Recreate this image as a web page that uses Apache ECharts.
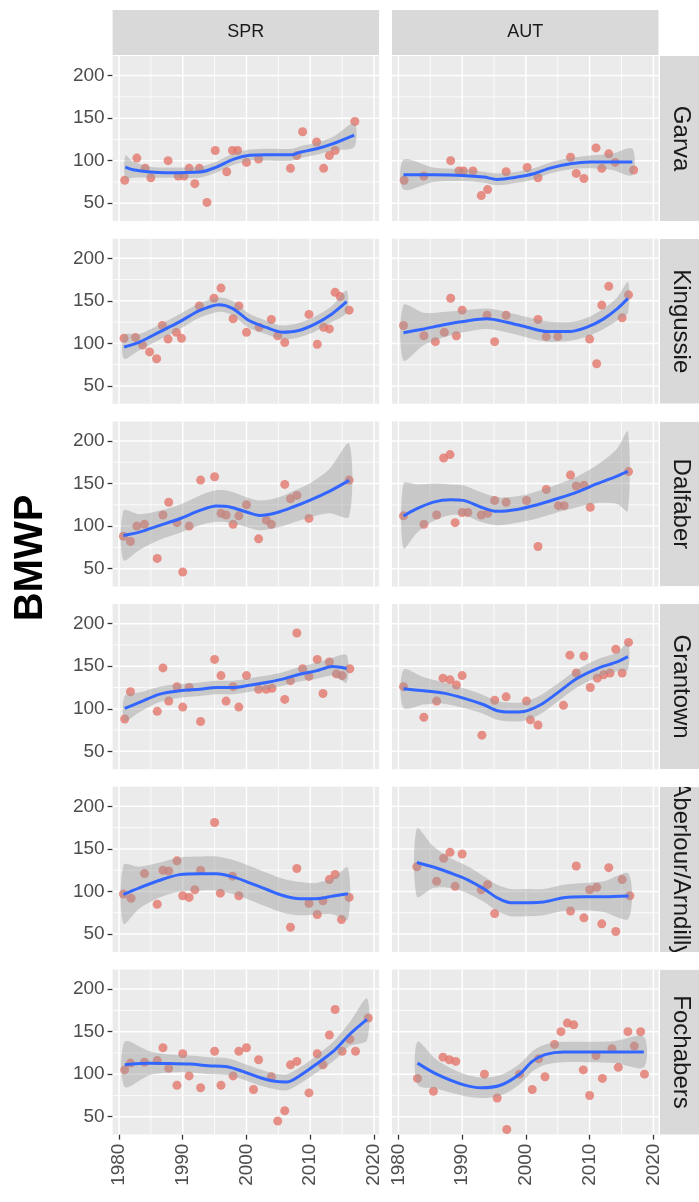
<!DOCTYPE html>
<html><head><meta charset="utf-8">
<script src="https://cdn.jsdelivr.net/npm/echarts@6/dist/echarts.min.js"></script>
<style>html,body{margin:0;padding:0;background:#fff}#c{width:699px;height:1202px}</style>
</head><body><div id="c"></div>
<script>
// ---- categories / ticks ----
const seasons = ['SPR', 'AUT'];
const sites = ['Garva', 'Kingussie', 'Dalfaber', 'Grantown', 'Aberlour/Arndilly', 'Fochabers'];
const xTickYears = [1980, 1990, 2000, 2010, 2020];
const xMinorYears = [1985, 1995, 2005, 2015];
const yTickValues = [50, 100, 150, 200];
const yMinorValues = [75, 125, 175];

// ---- observed points [year, BMWP] ----
const garvaSpr = [[1980.9,77],[1982.8,103],[1984.1,91],[1985,80],[1987.7,100],[1989.3,82],[1990.2,82],[1991,91],[1991.9,73],[1992.6,91],[1993.8,51],[1995.1,112],[1996.9,87],[1997.8,112],[1998.6,112],[2000,98],[2001.9,102],[2006.9,91],[2007.9,106],[2008.8,134],[2011,122],[2012.1,91],[2013,106],[2013.9,112],[2017,146]];
const garvaAut = [[1980.9,77],[1984,82],[1988.2,100],[1989.5,88],[1990.2,88],[1991.7,88],[1993,59],[1994,66],[1996.9,87],[2000.2,92],[2001.9,80],[2007,104],[2007.9,85],[2009.1,79],[2011,115],[2011.9,91],[2013,108],[2014,98],[2016.9,89]];
const kingussieSpr = [[1980.8,106],[1982.6,107],[1983.7,98],[1984.8,90],[1985.9,82],[1986.8,121],[1987.7,105],[1989,113],[1989.8,106],[1992.6,144],[1994.9,153],[1996,165],[1997.9,129],[1998.8,144],[2000,113],[2002,119],[2003.9,128],[2004.9,109],[2006,101],[2009.8,134],[2011.1,99],[2012.1,119],[2013,117],[2013.9,160],[2014.7,155],[2016.1,139]];
const kingussieAut = [[1980.8,121],[1984,109],[1985.8,102],[1987.2,113],[1988.2,153],[1989.1,109],[1990,139],[1993.9,133],[1995.1,102],[1996.9,133],[2001.9,128],[2003.2,108],[2005,108],[2010,105],[2011.1,76],[2011.9,145],[2013,167],[2015.1,130],[2016.1,157]];
const dalfaberSpr = [[1980.7,88],[1981.8,82],[1982.8,100],[1984,102],[1986,62],[1986.9,113],[1987.8,128],[1989.1,104],[1990,46],[1991,100],[1992.8,154],[1995,158],[1996,115],[1996.8,113],[1997.9,102],[1998.8,112],[2000,125],[2001.9,85],[2003.1,107],[2003.9,102],[2006,149],[2006.9,132],[2007.9,136],[2009.8,109],[2016.1,154]];
const dalfaberAut = [[1980.8,112],[1984,102],[1986,113],[1987.1,180],[1988.1,184],[1988.9,104],[1990,116],[1990.9,116],[1993,113],[1994,115],[1995.1,130],[1996.9,128],[2000.1,130],[2001.9,76],[2003.2,143],[2005.1,124],[2006,124],[2007,160],[2007.9,147],[2009.1,148],[2010.1,122],[2016.1,164]];
const grantownSpr = [[1980.9,88],[1981.8,120],[1986,97],[1986.9,148],[1987.8,109],[1989.1,126],[1990,102],[1991,125],[1992.8,85],[1995,158],[1996,139],[1996.8,109],[1997.9,126],[1998.8,102],[2000,139],[2001.9,123],[2003.1,123],[2004,124],[2006,111],[2006.9,133],[2007.9,189],[2008.8,147],[2009.8,138],[2011.1,158],[2012,118],[2013,155],[2014.1,141],[2015,139],[2016.2,147]];
const grantownAut = [[1980.8,126],[1984,90],[1986,109],[1987,136],[1988.1,134],[1989.1,128],[1990,139],[1993.1,69],[1995.1,110],[1996.9,114],[2000.1,109],[2000.7,87],[2001.9,81],[2005.9,104],[2006.9,163],[2007.9,142],[2009.1,162],[2010.1,125],[2011.2,136],[2012.2,140],[2013.2,142],[2014.1,170],[2015.1,142],[2016.1,178]];
const aberlourSpr = [[1980.7,97],[1981.9,92],[1984,121],[1986,85],[1986.9,125],[1987.8,124],[1989.1,136],[1990,95],[1991,93],[1991.9,102],[1992.8,125],[1995,181],[1995.9,98],[1997.8,118],[1998.8,95],[2006.9,58],[2007.9,127],[2009.8,86],[2011.1,73],[2012,89],[2013,114],[2013.9,120],[2014.9,67],[2016.1,93]];
const aberlourAut = [[1982.9,129],[1986,112],[1987.1,139],[1988.1,146],[1988.9,106],[1990,144],[1993,102],[1994,108],[1995.1,74],[2007,77],[2007.9,130],[2009.1,69],[2010,102],[2011.1,105],[2011.9,62],[2013,128],[2014.1,53],[2015.1,114],[2016.3,95]];
const fochabersSpr = [[1980.9,105],[1981.8,113],[1984,114],[1986,116],[1986.9,131],[1987.8,107],[1989.1,87],[1990,124],[1991,98],[1992.8,84],[1995,127],[1996,87],[1997.9,98],[1998.8,127],[2000,131],[2001.1,82],[2001.9,117],[2003.9,97],[2004.9,45],[2006,57],[2006.9,111],[2007.9,115],[2009.8,78],[2011.1,124],[2012,111],[2013,146],[2013.9,176],[2015,127],[2016.2,141],[2017.1,127],[2019.1,166]];
const fochabersAut = [[1983,95],[1985.5,80],[1987,120],[1988,117],[1989,115],[1993.5,100],[1995.5,72],[1997,35],[1999,100],[2001,82],[2002,118],[2003,97],[2004.5,135],[2005.5,150],[2006.5,160],[2007.5,158],[2009,105],[2010,75],[2011,122],[2012,95],[2013.5,130],[2014.5,108],[2016,150],[2017,133],[2018,150],[2018.6,100]];

// ---- smoothed fits [year, fit, lower, upper] ----
const garvaSprFit = [[1981,92.5,79,106],[1982.2,89.4,80,99],[1984.9,86.6,80,93],[1987.5,85.8,80,92],[1992.7,86.6,80,93],[1995.3,92.5,86,99],[1997.9,101.6,95,108],[2000.5,106.3,100,113],[2003.2,107,100,114],[2007.1,107,100,114],[2008.4,110,103,117],[2011,114,107,121],[2013.6,120,112,128],[2016.9,130,116,144]];
const garvaAutFit = [[1980.8,83.5,66,101],[1985.5,83.5,75,92],[1990.2,82.7,76,90],[1993.4,80.7,74,87],[1995.5,78,71,85],[1998.6,80.7,74,87],[2001.2,84.6,78,91],[2003.8,91.3,85,98],[2007,96.5,90,103],[2010.1,98.4,91,106],[2013.5,98.4,89,108],[2016.7,98.4,83,114]];
const kingussieSprFit = [[1980.8,95.7,82,110],[1983.2,101.6,92,111],[1986.3,113.2,104,122],[1989.4,124.9,116,134],[1992.6,138.5,130,147],[1995.7,145.5,137,154],[1997.8,141.2,133,150],[2000.4,126.8,118,135],[2003,119,111,127],[2005.6,113.2,105,121],[2008.2,115.2,107,124],[2010.8,123,114,132],[2013.4,134.6,125,144],[2015.7,149,136,162]];
const kingussieAutFit = [[1980.8,112.5,80,145],[1984,117,98,136],[1987.1,121.8,107,137],[1990.2,125.7,113,139],[1993.9,128.8,117,141],[1997,124.9,113,137],[2000.2,119,107,131],[2003.3,114,102,126],[2007,114,103,125],[2009.6,119,108,130],[2012.2,128.8,117,141],[2014.3,140.5,127,154],[2016,152.9,136,172]];
const dalfaberSprFit = [[1980.7,89,60,118],[1983.2,92.9,72,114],[1986.4,100.8,84,118],[1989.5,108.6,92,125],[1992.7,118.4,101,136],[1995.3,123.5,105,142],[1997.4,122.4,104,141],[2000,116.5,99,134],[2002.1,112.5,95,130],[2004.7,115.7,98,133],[2007.3,122.4,104,141],[2009.9,130.2,110,150],[2013,140.8,115,167],[2016.1,153.7,111,197]];
const dalfaberAutFit = [[1980.8,111.8,74,150],[1982.9,120.4,92,149],[1985.5,128.2,106,150],[1988.2,130.9,113,149],[1990.2,130.2,113,148],[1992.9,122.4,105,140],[1995.5,117.3,101,134],[1998.6,119.6,104,135],[2001.8,125.1,109,141],[2004.9,132.2,116,149],[2008,140,122,158],[2011.2,149.8,127,172],[2014.3,158.8,126,191],[2016,164.3,118,211]];
const grantownSprFit = [[1980.9,100.4,86,115],[1983.2,107.4,96,119],[1986.4,117.2,108,126],[1989.5,121.1,113,129],[1992.7,123,115,131],[1995.3,125,117,133],[1997.9,125,117,133],[2000.5,127.7,120,136],[2003.1,130.9,123,139],[2005.7,134.8,127,143],[2008.3,140.6,132,149],[2010.9,144.5,135,154],[2013.5,149.6,139,160],[2015.7,147.3,131,163]];
const grantownAutFit = [[1980.8,123.4,101,146],[1984,121.1,105,137],[1987.1,118.4,106,131],[1990.2,112.5,101,124],[1993.4,104.7,94,116],[1995.5,97.7,87,109],[1997.6,96.1,85,107],[1999.7,96.9,86,108],[2002.3,104.7,94,116],[2004.9,118.4,108,129],[2008,135.5,125,146],[2011.2,147.3,137,158],[2014.3,155.1,144,166],[2016,161.3,146,177]];
const aberlourSprFit = [[1980.7,96.5,62,131],[1983.2,104.3,80,129],[1986.4,113.2,93,134],[1989.5,119.8,100,140],[1992.7,120.9,101,141],[1995.3,120.9,101,141],[1997.9,117.1,97,137],[2000.5,110.1,90,130],[2003.2,102.3,82,122],[2005.7,95.3,75,115],[2008.4,91.5,72,111],[2011,91.5,73,110],[2013.6,94.6,73,116],[2015.9,97.3,67,128]];
const aberlourAutFit = [[1982.9,134.1,94,174],[1985.5,128.7,104,153],[1988.2,121.7,104,139],[1990.8,114,98,130],[1993.4,103.1,88,118],[1995.5,92.6,77,108],[1997.6,86.8,71,103],[2000.2,86.8,71,103],[2002.8,87.6,72,103],[2005.9,92.6,77,108],[2009.1,93.8,78,110],[2012.2,93.8,76,112],[2016.1,94.6,68,121]];
const fochabersSprFit = [[1980.9,111.2,85,138],[1984.8,112.8,99,127],[1988,112.4,102,123],[1991.1,112,102,122],[1994,110,100,120],[1996.8,108.9,99,119],[1999,104.3,95,114],[2001.6,97.3,88,107],[2004.2,91.9,83,101],[2006.3,90.7,81,100],[2008.4,98.4,89,108],[2011,112,102,122],[2013.6,126.7,115,138],[2016.2,146.9,133,161],[2018.9,164.3,140,189]];
const fochabersAutFit = [[1983,113,88,138],[1986,100,83,117],[1990,88,75,101],[1993,84,72,96],[1996,87,75,99],[1999,100,88,112],[2001,115,103,127],[2003,123,111,135],[2006,126,114,138],[2010,126,114,138],[2014,126,113,139],[2018.5,126,108,144]];

const panelPoints = [[garvaSpr, garvaAut],[kingussieSpr, kingussieAut],[dalfaberSpr, dalfaberAut],[grantownSpr, grantownAut],[aberlourSpr, aberlourAut],[fochabersSpr, fochabersAut]];
const panelFits = [[garvaSprFit, garvaAutFit],[kingussieSprFit, kingussieAutFit],[dalfaberSprFit, dalfaberAutFit],[grantownSprFit, grantownAutFit],[aberlourSprFit, aberlourAutFit],[fochabersSprFit, fochabersAutFit]];

// ---- layout ----
const FONT = '"Liberation Sans", Arial, sans-serif';
const XMIN = 1979, XMAX = 2020.8, YMIN = 29, YMAX = 223;
const colLeft = [112.6, 392];
const panelW = 266.5, panelH = 165.1;
const rowTop0 = 56, rowStep = 182.7;
const stripTop = 10, stripH = 45;
const rStripX = 660, rStripW = 45;

const chart = echarts.init(document.getElementById('c'), null, {renderer: 'canvas'});

const grids = [], xAxes = [], yAxes = [], series = [];
const graphics = [];

function gridLinesRender(params, api) {
  const cs = params.coordSys;
  const ch = [];
  const vline = (v, w) => { const p = api.coord([v, YMIN]); ch.push({type: 'line', shape: {x1: p[0], y1: cs.y, x2: p[0], y2: cs.y + cs.height}, style: {stroke: '#FFFFFF', lineWidth: w}}); };
  const hline = (v, w) => { const p = api.coord([XMIN, v]); ch.push({type: 'line', shape: {x1: cs.x, y1: p[1], x2: cs.x + cs.width, y2: p[1]}, style: {stroke: '#FFFFFF', lineWidth: w}}); };
  xMinorYears.forEach(v => vline(v, 0.8));
  yMinorValues.forEach(v => hline(v, 0.8));
  xTickYears.forEach(v => vline(v, 1.5));
  yTickValues.forEach(v => hline(v, 1.5));
  return {type: 'group', children: ch};
}

function makeBandRender(fit) {
  return function (params, api) {
    if (params.dataIndex !== 0) return null;
    const upper = fit.map(d => api.coord([d[0], d[3]]));
    const lower = fit.map(d => api.coord([d[0], d[2]])).reverse();
    return {type: 'polygon', shape: {points: upper.concat(lower), smooth: 0.3}, style: {fill: 'rgba(153,153,153,0.42)'}};
  };
}

for (let r = 0; r < sites.length; r++) {
  for (let c = 0; c < seasons.length; c++) {
    const i = r * 2 + c;
    const top = rowTop0 + r * rowStep;
    grids.push({left: colLeft[c], top: top, width: panelW, height: panelH, show: true, backgroundColor: '#EBEBEB', borderWidth: 0, containLabel: false});
    const bottomRow = r === sites.length - 1;
    xAxes.push({
      type: 'value', gridIndex: i, min: XMIN, max: XMAX,
      axisLine: {show: false}, splitLine: {show: false},
      axisTick: {show: bottomRow, customValues: xTickYears, length: 5, lineStyle: {color: '#333333', width: 1.3}},
      axisLabel: {show: bottomRow, customValues: xTickYears, rotate: 90, margin: 9, fontSize: 19, color: '#4D4D4D', fontFamily: FONT, formatter: v => String(v)}
    });
    yAxes.push({
      type: 'value', gridIndex: i, min: YMIN, max: YMAX,
      axisLine: {show: false}, splitLine: {show: false},
      axisTick: {show: c === 0, customValues: yTickValues, length: 5, lineStyle: {color: '#333333', width: 1.3}},
      axisLabel: {show: c === 0, customValues: yTickValues, margin: 8, fontSize: 19, color: '#4D4D4D', fontFamily: FONT, formatter: v => String(v)}
    });
    series.push({type: 'custom', xAxisIndex: i, yAxisIndex: i, data: [[2000, 100]], renderItem: gridLinesRender, silent: true, z: 1, clip: false});
    series.push({type: 'scatter', xAxisIndex: i, yAxisIndex: i, data: panelPoints[r][c], symbolSize: 9, itemStyle: {color: '#E4776D'}, z: 2, silent: true});
    const fit = panelFits[r][c];
    series.push({type: 'custom', xAxisIndex: i, yAxisIndex: i, data: fit, encode: {x: 0, y: [2, 3]}, renderItem: makeBandRender(fit), silent: true, z: 3, clip: true});
    series.push({type: 'line', xAxisIndex: i, yAxisIndex: i, data: fit.map(d => [d[0], d[1]]), showSymbol: false, smooth: 0.3, lineStyle: {color: '#3366FF', width: 3}, z: 4, silent: true});

    if (r === 0) {
      graphics.push({type: 'rect', shape: {x: colLeft[c], y: stripTop, width: panelW, height: stripH}, style: {fill: '#D9D9D9'}, z: 10});
      graphics.push({type: 'text', x: colLeft[c] + panelW / 2, y: stripTop + stripH / 2, style: {text: seasons[c], font: '18px ' + FONT, fill: '#1A1A1A', align: 'center', verticalAlign: 'middle'}, z: 11});
    }
  }
  const top = rowTop0 + r * rowStep;
  graphics.push({type: 'rect', shape: {x: rStripX, y: top, width: rStripW, height: panelH}, style: {fill: '#D9D9D9'}, z: 10});
  graphics.push({type: 'text', x: rStripX + 21, y: top + panelH / 2, rotation: -Math.PI / 2, style: {text: sites[r], font: '24px ' + FONT, fill: '#1A1A1A', align: 'center', verticalAlign: 'middle'}, z: 11});
  // white gaps clipping any overflowing strip text
  if (r > 0) graphics.push({type: 'rect', shape: {x: rStripX, y: top - (rowStep - panelH), width: rStripW, height: rowStep - panelH}, style: {fill: '#FFFFFF'}, z: 12});
  if (r < sites.length - 1) graphics.push({type: 'rect', shape: {x: rStripX, y: top + panelH, width: rStripW, height: rowStep - panelH}, style: {fill: '#FFFFFF'}, z: 12});
}

graphics.push({type: 'text', x: 31, y: 558, rotation: Math.PI / 2, style: {text: 'BMWP', font: 'bold 40px ' + FONT, fill: '#000000', align: 'center', verticalAlign: 'middle'}, z: 11});

chart.setOption({
  animation: false,
  backgroundColor: '#FFFFFF',
  grid: grids, xAxis: xAxes, yAxis: yAxes, series: series,
  graphic: {elements: graphics}
});
</script></body></html>
